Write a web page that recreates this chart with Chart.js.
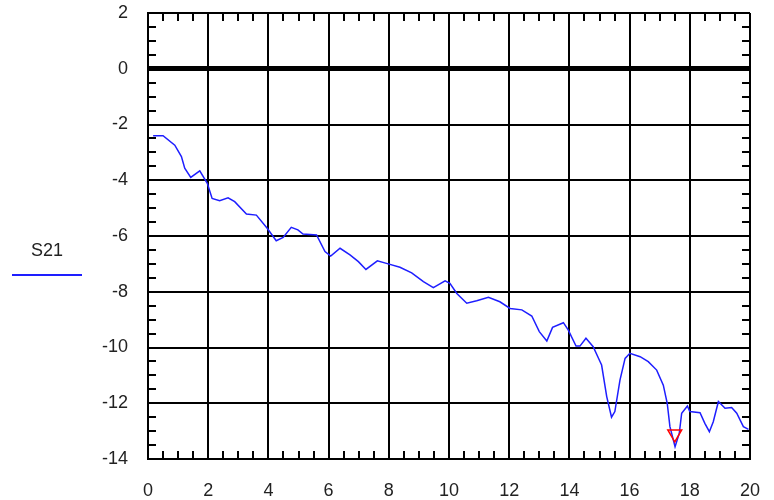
<!DOCTYPE html>
<html>
<head>
<meta charset="utf-8">
<script src="https://cdn.jsdelivr.net/npm/chart.js"></script>
<style>
  body { margin: 0; background: #fff; }
  canvas { display: block; }
</style>
</head>
<body>
<canvas id="s21Chart" width="774" height="500"></canvas>
<script>
// frequency (x) and S21 values
var freq = [0.17, 0.5, 0.89, 1.11, 1.22, 1.42, 1.72, 1.97, 2.13, 2.38, 2.66, 2.88, 3.27, 3.6, 3.96,
    4.26, 4.49, 4.76, 4.98, 5.15, 5.6, 5.88, 6.07, 6.38, 6.71, 6.99, 7.24, 7.62, 7.98, 8.37,
    8.76, 9.15, 9.48, 9.87, 10.03, 10.26, 10.59, 10.92, 11.31, 11.69, 12.03, 12.42, 12.75, 13.0,
    13.25, 13.44, 13.8, 13.96, 14.22, 14.35, 14.55, 14.79, 15.02, 15.07, 15.24, 15.4, 15.51,
    15.68, 15.85, 16.01, 16.35, 16.62, 16.9, 17.12, 17.25, 17.34, 17.51, 17.65, 17.73, 17.92,
    18.0, 18.34, 18.5, 18.65, 18.78, 18.95, 19.17, 19.39, 19.56, 19.78, 19.95];
var s21 = [-2.40, -2.40, -2.74, -3.15, -3.57, -3.90, -3.66, -4.11, -4.65, -4.73, -4.63, -4.77, -5.21, -5.25, -5.72,
    -6.17, -6.05, -5.69, -5.78, -5.93, -5.96, -6.56, -6.72, -6.44, -6.68, -6.92, -7.20, -6.89, -7.00, -7.12,
    -7.32, -7.64, -7.85, -7.61, -7.70, -8.06, -8.41, -8.32, -8.20, -8.36, -8.60, -8.65, -8.87, -9.43,
    -9.77, -9.28, -9.11, -9.37, -9.95, -9.95, -9.67, -9.97, -10.51, -10.63, -11.76, -12.5, -12.3,
    -11.17, -10.39, -10.21, -10.33, -10.51, -10.81, -11.35, -12.0, -12.84, -13.56, -13.08, -12.36, -12.1,
    -12.3, -12.34, -12.72, -13.02, -12.66, -11.94, -12.18, -12.15, -12.36, -12.84, -12.94];
var markerX = [17.5];
var markerY = [-13.1];
var xTicks = [0, 2, 4, 6, 8, 10, 12, 14, 16, 18, 20];
var yTicks = [-14, -12, -10, -8, -6, -4, -2, 0, 2];
var seriesName = "S21";

var traceColor = "rgb(30,30,255)";
var labelFont = "18px 'Liberation Sans', Arial, sans-serif";

var points = [];
for (let i = 0; i < freq.length; i++) {
    points.push({x: freq[i], y: s21[i]});
}
var markerPoints = [];
for (let i = 0; i < markerX.length; i++) {
    markerPoints.push({x: markerX[i], y: markerY[i]});
}

// small inward ticks every 0.5 on all four sides, plus the side legend
var extras = {
    id: "extras",
    afterDatasetsDraw: function (chart) {
        var ctx = chart.ctx;
        var xs = chart.scales.x, ys = chart.scales.y;
        var a = chart.chartArea;
        var len = 8;
        ctx.save();
        ctx.strokeStyle = "#000";
        ctx.lineWidth = 2;
        ctx.beginPath();
        for (let v = xs.min; v <= xs.max; v += 0.5) {
            if (v % 2 === 0) continue;
            let px = Math.round(xs.getPixelForValue(v));
            ctx.moveTo(px, a.top); ctx.lineTo(px, a.top + len);
            ctx.moveTo(px, a.bottom); ctx.lineTo(px, a.bottom - len);
        }
        for (let v = ys.min; v <= ys.max; v += 0.5) {
            if (v % 2 === 0) continue;
            let py = Math.round(ys.getPixelForValue(v));
            ctx.moveTo(a.left, py); ctx.lineTo(a.left + len, py);
            ctx.moveTo(a.right, py); ctx.lineTo(a.right - len, py);
        }
        ctx.stroke();

        // legend on the left
        ctx.fillStyle = "#222";
        ctx.font = labelFont;
        ctx.textAlign = "center";
        ctx.textBaseline = "middle";
        ctx.fillText(seriesName, 47, 251);
        ctx.strokeStyle = traceColor;
        ctx.lineWidth = 2;
        ctx.beginPath();
        ctx.moveTo(12, 275);
        ctx.lineTo(82, 275);
        ctx.stroke();
        ctx.restore();
    }
};

new Chart(document.getElementById("s21Chart").getContext("2d"), {
    type: "scatter",
    data: {
        datasets: [{
            label: seriesName,
            data: points,
            showLine: true,
            borderColor: traceColor,
            borderWidth: 1.5,
            pointRadius: 0,
            tension: 0,
            order: 2
        }, {
            label: "marker",
            data: markerPoints,
            pointStyle: "triangle",
            rotation: 180,
            pointRadius: 8,
            borderColor: "#ff0000",
            borderWidth: 1.5,
            backgroundColor: "rgba(0,0,0,0)",
            order: 1
        }]
    },
    options: {
        responsive: false,
        animation: false,
        layout: { padding: { top: 13, right: 24, left: 0, bottom: 0 } },
        plugins: {
            legend: { display: false },
            tooltip: { enabled: false }
        },
        scales: {
            x: {
                type: "linear",
                min: 0,
                max: 20,
                afterBuildTicks: function (scale) {
                    scale.ticks = xTicks.map(function (v) { return {value: v}; });
                },
                afterFit: function (scale) {
                    scale.height = 41;
                    scale.paddingLeft = 0;
                    scale.paddingRight = 0;
                },
                ticks: {
                    color: "#222",
                    font: { family: "'Liberation Sans', Arial, sans-serif", size: 18 },
                    padding: 21,
                    maxRotation: 0
                },
                grid: { color: "#000", lineWidth: 2, drawTicks: false },
                border: { color: "#000", width: 2 }
            },
            y: {
                type: "linear",
                min: -14,
                max: 2,
                afterBuildTicks: function (scale) {
                    scale.ticks = yTicks.map(function (v) { return {value: v}; });
                },
                afterFit: function (scale) {
                    scale.width = 148;
                    scale.paddingTop = 0;
                    scale.paddingBottom = 0;
                },
                ticks: {
                    color: "#222",
                    font: { family: "'Liberation Sans', Arial, sans-serif", size: 18 },
                    padding: 20
                },
                grid: {
                    color: "#000",
                    lineWidth: function (c) { return c.tick && c.tick.value === 0 ? 5 : 2; },
                    drawTicks: false
                },
                border: { color: "#000", width: 2 }
            }
        }
    },
    plugins: [extras]
});
</script>
</body>
</html>
